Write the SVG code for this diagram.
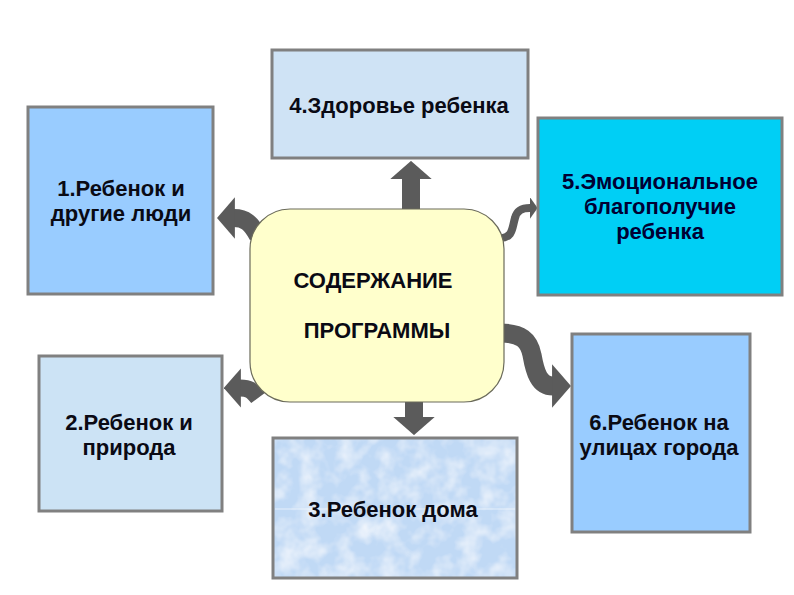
<svg xmlns="http://www.w3.org/2000/svg" width="794" height="595" viewBox="0 0 794 595">
<defs>
<style>
.box{stroke:#808080;stroke-width:3}
.t{font-family:"Liberation Sans",Arial,sans-serif;font-weight:bold;font-size:22px;fill:#0a0a14;text-anchor:middle}
.arr{fill:none;stroke:#5b5b5b}
</style>
<marker id="head" viewBox="0 0 10 10" refX="0.5" refY="5" markerUnits="strokeWidth" markerWidth="1" markerHeight="2.3" orient="auto" preserveAspectRatio="none">
<path d="M0,0 L10,5 L0,10 z" fill="#5b5b5b"/>
</marker>
<marker id="headS" viewBox="0 0 10 10" refX="0.5" refY="5" markerUnits="strokeWidth" markerWidth="1" markerHeight="2.8" orient="auto" preserveAspectRatio="none">
<path d="M0,0 L10,5 L0,10 z" fill="#5b5b5b"/>
</marker>
<filter id="clouds" x="0" y="0" width="100%" height="100%">
<feTurbulence type="fractalNoise" baseFrequency="0.05" numOctaves="3" seed="4" result="n"/>
<feColorMatrix in="n" type="matrix" values="0 0 0 0 1  0 0 0 0 1  0 0 0 0 1  1.3 0 0 0 -0.5" result="w"/>
<feComposite in="w" in2="SourceGraphic" operator="atop"/>
</filter>
</defs>
<rect width="794" height="595" fill="#ffffff"/>

<g id="connectors">
<path class="arr" d="M411,212 L411,178" stroke-width="18" marker-end="url(#head)"/>
<path class="arr" d="M414,400 L414,418" stroke-width="18" marker-end="url(#head)"/>
<path class="arr" d="M258,236 C251,223 245,218 234,218" stroke-width="18" marker-end="url(#head)"/>
<path class="arr" d="M258,398 C252,390 249,388 240,388" stroke-width="17" marker-end="url(#head)"/>
<path class="arr" d="M500,238 C513,238 512,228 515,218 C517,210 522,208 530,208" stroke-width="8" marker-end="url(#headS)"/>
<path class="arr" d="M500,333 C521,333 529,340 532,355 C535,372 539,386 553,386" stroke-width="19" marker-end="url(#head)"/>
</g>

<g id="node-center">
<rect x="250" y="209" width="254" height="193" rx="40" ry="40" fill="#ffffcc" stroke="#6b6b5a" stroke-width="1.2"/>
<text class="t" x="373" y="288">СОДЕРЖАНИЕ</text>
<text class="t" x="377" y="338">ПРОГРАММЫ</text>
</g>

<g id="node-1">
<rect class="box" x="28" y="107" width="185" height="187" fill="#99ccff"/>
<text class="t" x="121" y="196">1.Ребенок и</text>
<text class="t" x="121" y="221">другие люди</text>
</g>

<g id="node-2">
<rect class="box" x="39" y="356" width="183" height="155" fill="#cce3f5"/>
<text class="t" x="129" y="430">2.Ребенок и</text>
<text class="t" x="129" y="455">природа</text>
</g>

<g id="node-3">
<rect x="273" y="438" width="244" height="140" fill="#c0d9f5" filter="url(#clouds)"/>
<line x1="275" y1="509" x2="515" y2="509" stroke="#ffffff" stroke-opacity="0.6" stroke-width="1"/>
<rect class="box" x="273" y="438" width="244" height="140" fill="none"/>
<text class="t" x="393" y="517">3.Ребенок дома</text>
</g>

<g id="node-4">
<rect class="box" x="272" y="50" width="256" height="108" fill="#cfe3f5"/>
<text class="t" x="399" y="113">4.Здоровье ребенка</text>
</g>

<g id="node-5">
<rect class="box" x="538" y="118" width="244" height="177" fill="#00cff5"/>
<text class="t" x="660" y="189" style="fill:#000033">5.Эмоциональное</text>
<text class="t" x="660" y="214" style="fill:#000033">благополучие</text>
<text class="t" x="660" y="239" style="fill:#000033">ребенка</text>
</g>

<g id="node-6">
<rect class="box" x="572" y="334" width="178" height="198" fill="#99ccff"/>
<text class="t" x="659" y="430">6.Ребенок на</text>
<text class="t" x="659" y="455">улицах города</text>
</g>
</svg>
